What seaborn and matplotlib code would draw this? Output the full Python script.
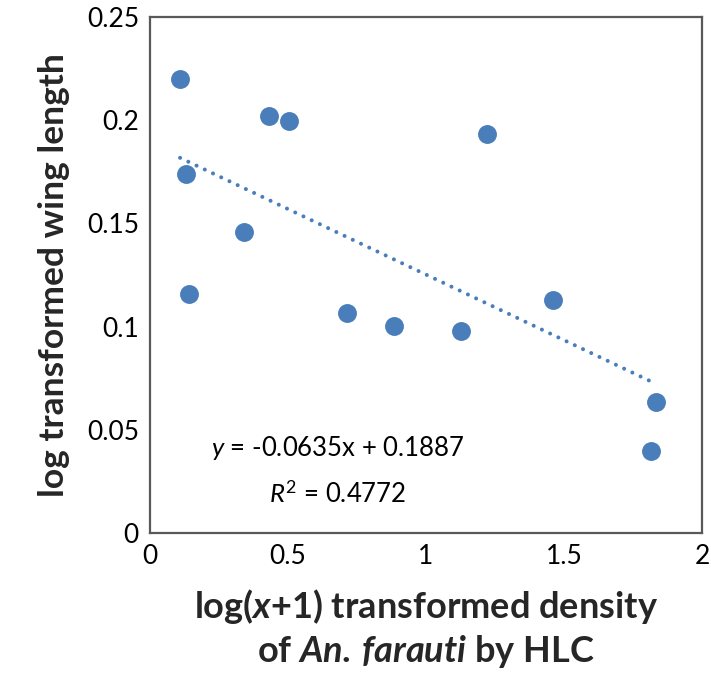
import numpy as np
import pandas as pd
import seaborn as sns
import matplotlib.pyplot as plt

# values
density = [0.109, 0.132, 0.140, 0.339, 0.430, 0.502, 0.713, 0.884,
           1.126, 1.221, 1.460, 1.832, 1.814]
wing_length = [0.2198, 0.1739, 0.1160, 0.1460, 0.2022, 0.1998, 0.1064, 0.1003,
               0.0980, 0.1933, 0.1130, 0.0636, 0.0399]
trend_slope = -0.0635
trend_intercept = 0.1887
r_squared = 0.4772
x_ticks = [0, 0.5, 1, 1.5, 2]
y_ticks = [0, 0.05, 0.1, 0.15, 0.2, 0.25]

df = pd.DataFrame({"density": density, "wing": wing_length})

sns.set_theme(style="white")
plt.rcParams["font.family"] = ["Lato", "DejaVu Sans"]
plt.rcParams["mathtext.fontset"] = "custom"
plt.rcParams["mathtext.rm"] = "Lato"
plt.rcParams["mathtext.it"] = "Lato:italic"
plt.rcParams["mathtext.bf"] = "Lato:bold"
plt.rcParams["mathtext.bfit"] = "Lato:italic:bold"

point_color = "#4a7ebb"

fig = plt.figure(figsize=(7.11, 6.99), dpi=100)
ax = fig.add_axes([150 / 711, 1 - 533 / 699, 552 / 711, 516 / 699])

sns.scatterplot(data=df, x="density", y="wing", ax=ax, s=185,
                color=point_color, linewidth=0, zorder=3)

# dotted linear trendline over the data range
x_line = np.array([df["density"].min(), df["density"].max()])
ax.plot(x_line, trend_slope * x_line + trend_intercept, color=point_color,
        linewidth=2.9, linestyle=(0, (0.01, 2.25)), dash_capstyle="round",
        zorder=2)

ax.text(0.68, 0.041, rf"$\mathit{{y}}$ = {trend_slope}x + {trend_intercept}",
        ha="center", va="center", fontsize=18.5, color="black")
ax.text(0.68, 0.0185, rf"$\mathit{{R}}^{{\mathit{{2}}}}$ = {r_squared}",
        ha="center", va="center", fontsize=18.5, color="black")

ax.set_xlim(0, 2)
ax.set_ylim(0, 0.25)
ax.set_xticks(x_ticks)
ax.set_xticklabels([f"{t:g}" for t in x_ticks])
ax.set_yticks(y_ticks)
ax.set_yticklabels([f"{t:g}" for t in y_ticks])
ax.tick_params(axis="both", length=0, labelsize=19, labelcolor="black", pad=8)

for sp in ax.spines.values():
    sp.set_color("#595959")
    sp.set_linewidth(1.6)

ax.set_xlabel("log($\\mathbfit{x}$+1) transformed density\nof $\\mathbfit{An.}\\,\\mathbfit{farauti}$ by HLC",
              fontsize=26, fontweight="bold", labelpad=13, linespacing=1.25)
ax.set_ylabel("log transformed wing length", fontsize=25.5, fontweight="bold",
              labelpad=12)

fig.savefig("out.png", dpi=100)
plt.close(fig)
